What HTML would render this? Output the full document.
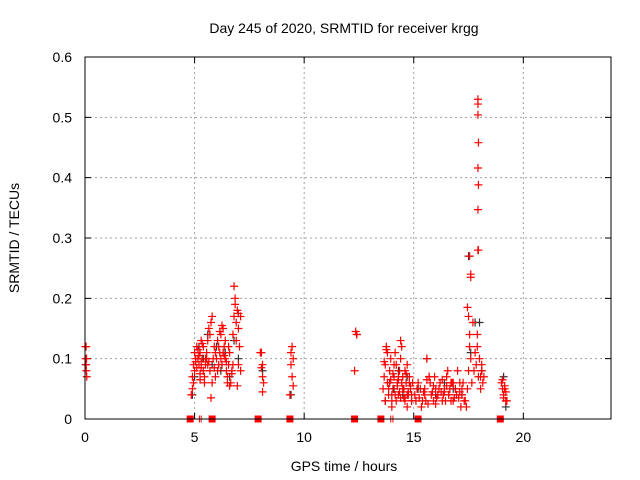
<!DOCTYPE html>
<html><head><meta charset="utf-8"><style>
body{margin:0;background:#fff;}
svg{display:block;font-family:"Liberation Sans",sans-serif;}
</style></head><body>
<svg id="chart" width="640" height="480" viewBox="0 0 640 480" xmlns="http://www.w3.org/2000/svg">
<rect width="640" height="480" fill="#fff"/>
<text x="344" y="33" font-size="14" text-anchor="middle">Day 245 of 2020, SRMTID for receiver krgg</text>
<text x="344" y="471" font-size="14" text-anchor="middle">GPS time / hours</text>
<text transform="translate(19,238) rotate(-90)" font-size="14" text-anchor="middle">SRMTID / TECUs</text>
<g id="grid"></g>
<g id="axes"></g>
<g id="blackPts"></g>
<g id="redPts"></g>
<rect x="85" y="57" width="526" height="362" fill="none" stroke="#000" stroke-width="1"/>
</svg>
<script>
const xTicks=[0,5,10,15,20];
const yTicks=[0,0.1,0.2,0.3,0.4,0.5,0.6];
const yTickLabels=["0","0.1","0.2","0.3","0.4","0.5","0.6"];
const redHours=[
0.02,0.05,0.03,0.07,0.05,0.06,0.08,
4.85,4.9,4.95,4.9,5.0,4.95,5.05,5.0,5.1,5.15,
5.2,5.25,5.3,5.35,5.4,5.45,5.3,5.2,5.1,5.25,
5.4,5.5,5.55,5.6,5.65,5.7,5.75,5.8,5.6,5.7,
5.8,5.75,5.85,5.9,5.95,6.0,6.05,6.1,6.15,6.2,
6.25,6.3,6.35,6.4,6.45,6.5,6.55,6.6,6.65,6.7,
6.75,6.8,6.85,6.8,6.9,6.95,7.0,7.05,6.9,7.0,
6.95,6.6,6.5,6.4,6.3,6.2,6.1,5.95,7.1,7.1,
5.5,5.45,6.15,6.25,6.85,7.0,5.15,5.35,5.65,5.9,
6.05,6.35,6.45,6.7,5.25,5.55,6.55,6.75,5.05,5.3,
8.0,8.05,8.1,8.05,8.1,8.15,8.1,
9.4,9.45,9.5,9.4,9.45,9.5,9.35,
12.35,12.4,12.3,
13.6,13.65,13.7,13.75,13.8,13.85,13.9,13.95,14.0,14.05,
14.1,14.15,14.2,14.25,14.3,14.35,14.4,14.45,14.5,14.55,
14.6,14.65,14.7,14.75,14.8,14.85,14.9,14.95,13.7,13.8,
13.9,14.0,14.1,14.2,14.3,14.4,14.5,14.6,14.7,14.8,
14.9,14.0,14.3,14.5,14.6,14.7,13.65,13.75,13.85,14.15,
14.25,14.35,14.45,14.55,14.65,14.75,14.85,13.95,14.05,14.4,
15.05,15.1,15.2,15.3,15.4,15.5,15.6,15.7,15.8,15.9,
16.0,16.1,16.2,16.3,16.4,16.5,16.6,16.7,16.8,16.9,
17.0,17.1,17.2,17.3,15.15,15.35,15.55,15.75,15.95,16.15,
16.35,16.55,16.75,16.95,17.15,15.6,15.7,16.4,16.5,16.7,
16.9,17.05,17.2,15.25,15.45,15.65,15.85,16.05,16.25,16.45,
16.65,16.85,17.25,16.0,16.6,15.9,16.3,17.1,15.5,16.8,
17.35,17.4,17.45,17.5,17.55,17.45,17.5,17.55,17.6,17.65,
17.6,17.7,17.75,17.8,17.85,17.9,17.95,17.93,17.93,17.93,
17.95,17.93,17.95,17.93,17.93,17.95,18.0,18.05,18.1,18.15,
18.2,18.05,18.1,17.9,17.6,17.55,
19.0,19.05,19.1,19.15,19.2,19.1,19.2,19.25,19.15,19.05];
const redValues=[
0.12,0.12,0.10,0.10,0.09,0.08,0.07,
0.04,0.05,0.06,0.07,0.08,0.09,0.10,0.11,0.12,0.10,
0.09,0.11,0.13,0.10,0.08,0.07,0.095,0.105,0.085,0.075,
0.12,0.10,0.11,0.13,0.15,0.14,0.16,0.17,0.09,0.08,
0.06,0.035,0.10,0.12,0.11,0.10,0.13,0.12,0.11,0.10,
0.09,0.11,0.12,0.10,0.08,0.07,0.09,0.11,0.06,0.08,
0.14,0.17,0.19,0.22,0.16,0.18,0.15,0.12,0.13,0.09,
0.055,0.055,0.06,0.13,0.15,0.14,0.09,0.07,0.17,0.08,
0.09,0.06,0.145,0.155,0.20,0.175,0.115,0.125,0.095,0.085,
0.08,0.105,0.095,0.075,0.065,0.10,0.12,0.09,0.095,0.085,
0.11,0.11,0.09,0.085,0.07,0.06,0.045,
0.11,0.12,0.10,0.09,0.07,0.055,0.04,
0.145,0.14,0.08,
0.05,0.07,0.09,0.12,0.06,0.04,0.08,0.10,0.03,0.05,
0.07,0.11,0.09,0.06,0.04,0.08,0.10,0.12,0.07,0.05,
0.03,0.06,0.09,0.04,0.07,0.05,0.03,0.06,0.03,0.11,
0.06,0.04,0.09,0.03,0.07,0.13,0.05,0.08,0.04,0.06,
0.04,0.02,0.065,0.05,0.035,0.02,0.095,0.115,0.05,0.04,
0.055,0.045,0.06,0.035,0.075,0.045,0.055,0.065,0.075,0.035,
0.04,0.03,0.06,0.05,0.03,0.04,0.10,0.07,0.04,0.03,
0.05,0.04,0.06,0.03,0.05,0.07,0.04,0.06,0.03,0.05,
0.08,0.06,0.04,0.03,0.05,0.02,0.03,0.06,0.07,0.05,
0.04,0.08,0.06,0.04,0.02,0.065,0.07,0.045,0.055,0.03,
0.05,0.035,0.05,0.035,0.045,0.025,0.045,0.035,0.045,0.03,
0.05,0.035,0.06,0.025,0.04,0.055,0.065,0.045,0.05,0.06,
0.03,0.02,0.05,0.08,0.12,0.185,0.17,0.14,0.10,0.06,
0.235,0.16,0.08,0.11,0.09,0.12,0.07,0.53,0.522,0.504,
0.458,0.416,0.388,0.347,0.28,0.28,0.10,0.07,0.08,0.06,
0.07,0.05,0.09,0.14,0.24,0.27,
0.06,0.05,0.04,0.05,0.03,0.035,0.045,0.03,0.055,0.065];
const blackHours=[0.03,4.9,5.0,5.2,5.4,5.6,5.8,6.0,6.2,6.4,6.6,6.8,7.0,8.1,9.4,12.4,13.7,13.9,14.1,14.3,14.5,14.7,14.9,15.2,15.6,16.0,16.4,16.8,17.2,17.5,17.6,17.8,18.0,18.1,19.1,19.2];
const blackValues=[0.09,0.04,0.07,0.12,0.10,0.14,0.09,0.12,0.08,0.11,0.07,0.13,0.10,0.08,0.04,0.14,0.03,0.06,0.05,0.08,0.04,0.07,0.03,0.05,0.10,0.04,0.06,0.05,0.04,0.27,0.11,0.16,0.16,0.08,0.07,0.02];
const zeroHours=[4.8,5.8,7.9,9.35,12.3,13.5,15.2,18.95];
const thinZeroHours=[5.22,5.3,13.95,14.05];

const NS="http://www.w3.org/2000/svg";
const X0=85,X1=611,Y0=419,Y1=57,XMAX=24,YMAX=0.6;
function sx(h){return X0+(X1-X0)*h/XMAX;}
function sy(v){return Y0-(Y0-Y1)*v/YMAX;}
function mk(tag,attrs,parent){const e=document.createElementNS(NS,tag);for(const k in attrs)e.setAttribute(k,attrs[k]);parent.appendChild(e);return e;}
const grid=document.getElementById('grid'),axes=document.getElementById('axes');
xTicks.forEach(t=>{
  const x=sx(t);
  if(t>0){const l=mk('line',{x1:x,y1:Y1,x2:x,y2:Y0,stroke:'#a0a0a0','stroke-dasharray':'2,3'},grid);
  
  }
  const tk=mk('path',{d:`M${x},${Y0}v-6M${x},${Y1}v6`,stroke:'#000'},axes);
  
  
  const tx=mk('text',{x:x,y:442,'font-size':14,'text-anchor':'middle'},axes);tx.textContent=t;
  
  
});
yTicks.forEach((t,i)=>{
  const y=sy(t);
  if(t>0&&t<YMAX){const l=mk('line',{x1:X0,y1:y,x2:X1,y2:y,stroke:'#a0a0a0','stroke-dasharray':'2,3'},grid);
  
  }
  const tk=mk('path',{d:`M${X0},${y}h6M${X1},${y}h-6`,stroke:'#000'},axes);
  
  
  const tx=mk('text',{x:72,y:y+5,'font-size':14,'text-anchor':'end'},axes);tx.textContent=yTickLabels[i];
  
  
});
function cross(g,h,v,col){
  const x=sx(h),y=sy(v);
  const p=mk('path',{d:`M${x-4},${y}h8M${x},${y-4}v8`,stroke:col,'stroke-width':1.2},g);
  
  
}
const bg=document.getElementById('blackPts'),rg=document.getElementById('redPts');
blackHours.forEach((h,i)=>cross(bg,h,blackValues[i],'#333'));
redHours.forEach((h,i)=>cross(rg,h,redValues[i],'#f00'));
zeroHours.forEach(h=>{
  const r=mk('rect',{x:sx(h)-3.5,y:Y0-3.5,width:7,height:7,fill:'#f00'},rg);
  
  
});
thinZeroHours.forEach(h=>{
  const r=mk('path',{d:`M${sx(h)},${Y0-3.5}v7`,stroke:'#f00'},rg);
  
  
});
</script>
</body></html>
